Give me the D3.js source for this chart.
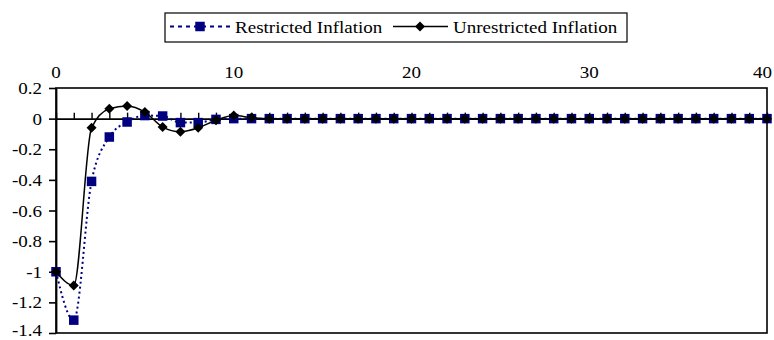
<!DOCTYPE html>
<html>
<head>
<meta charset="utf-8">
<script src="https://cdn.jsdelivr.net/npm/d3@7"></script>
<style>
  html, body { margin: 0; padding: 0; background: #fff; }
  svg { display: block; }
  text { font-family: "Liberation Serif", "Times New Roman", serif; font-size: 17px; fill: #000; }
</style>
</head>
<body>
<svg id="chart" width="774" height="340"></svg>
<script>
// Impulse responses of inflation over 40 periods
const periods = d3.range(0, 41);
const restricted = [-1, -1.316, -0.41, -0.12, -0.022, 0.02, 0.017, -0.026, -0.026, -0.005,
  0, 0, 0, 0, 0, 0, 0, 0, 0, 0, 0, 0, 0, 0, 0, 0, 0, 0, 0, 0, 0, 0, 0, 0, 0, 0, 0, 0, 0, 0, 0];
const unrestricted = [-1, -1.09, -0.06, 0.065, 0.083, 0.043, -0.055, -0.085, -0.06, -0.011,
  0.02, 0.007, 0, 0, 0, 0, 0, 0, 0, 0, 0, 0, 0, 0, 0, 0, 0, 0, 0, 0, 0, 0, 0, 0, 0, 0, 0, 0, 0, 0, 0];
const xTickLabels = [0, 10, 20, 30, 40];
const yTickLabels = [0.2, 0, -0.2, -0.4, -0.6, -0.8, -1, -1.2, -1.4];
const seriesNames = ["Restricted Inflation", "Unrestricted Inflation"];

const svg = d3.select("#chart");
const plot = { left: 56, right: 767, top: 88, bottom: 333 };
const stretch = 1.12; // horizontal widening of the serif labels

const x = d3.scaleLinear().domain([0, 40]).range([plot.left, plot.right]);
const y = d3.scaleLinear().domain([-1.4, 0.2]).range([plot.bottom, plot.top]);

function label(parent, px, py, str, anchor) {
  return parent.append("text")
    .attr("transform", `translate(${px},${py}) scale(${stretch},1)`)
    .attr("text-anchor", anchor)
    .text(str);
}

// Plot frame
svg.append("rect")
  .attr("x", plot.left).attr("y", plot.top)
  .attr("width", plot.right - plot.left).attr("height", plot.bottom - plot.top)
  .attr("fill", "none").attr("stroke", "#000").attr("stroke-width", 1.6);

// Left value axis
const yAxis = svg.append("g")
  .attr("transform", `translate(${plot.left},0)`)
  .call(d3.axisLeft(y).tickValues(yTickLabels).tickSize(7).tickSizeOuter(0).tickFormat(""));
yAxis.selectAll("path").attr("stroke", "#000").attr("stroke-width", 1.8);
yAxis.selectAll("line").attr("stroke", "#000").attr("stroke-width", 1.6);
// value labels, the lowest one nudged up to stay on the page
yTickLabels.forEach(v => label(svg, 42, Math.min(y(v) + 6, 336), String(v), "end"));

// Horizontal axis at zero, minor ticks every period pointing up
const xAxis = svg.append("g")
  .attr("transform", `translate(0,${y(0)})`)
  .call(d3.axisTop(x).tickValues(periods).tickSize(6).tickSizeOuter(0).tickFormat(""));
xAxis.selectAll("path").attr("stroke", "#000").attr("stroke-width", 1.8);
xAxis.selectAll("line").attr("stroke", "#000").attr("stroke-width", 1.4);

// Period labels above the frame; the last one is kept inside the page
xTickLabels.forEach(v => {
  const t = label(svg, x(v), 77.5, String(v), "middle");
  const w = t.node().getBBox().width * stretch;
  const overflow = x(v) + w / 2 - 772;
  if (overflow > 0) t.attr("transform", `translate(${x(v) - overflow},77.5) scale(${stretch},1)`);
});

// Smoothed series lines
const line = d3.line()
  .x((d, i) => x(periods[i]))
  .y(d => y(d))
  .curve(d3.curveMonotoneX);

svg.append("path").datum(restricted)
  .attr("d", line).attr("fill", "none")
  .attr("stroke", "#000080").attr("stroke-width", 2).attr("stroke-dasharray", "2,3");

const sq = 9.5;
svg.append("g").selectAll("rect").data(restricted).join("rect")
  .attr("x", (d, i) => x(periods[i]) - sq / 2)
  .attr("y", d => y(d) - sq / 2)
  .attr("width", sq).attr("height", sq)
  .attr("fill", "#000080");

svg.append("path").datum(unrestricted)
  .attr("d", line).attr("fill", "none")
  .attr("stroke", "#000").attr("stroke-width", 1.5);

const diamond = r => `M0,${-r}L${r},0L0,${r}L${-r},0Z`;
svg.append("g").selectAll("path").data(unrestricted).join("path")
  .attr("transform", (d, i) => `translate(${x(periods[i])},${y(d)})`)
  .attr("d", diamond(5))
  .attr("fill", "#000");

// Legend
const lg = svg.append("g");
lg.append("rect").attr("x", 165).attr("y", 13).attr("width", 462).attr("height", 29)
  .attr("fill", "#fff").attr("stroke", "#000").attr("stroke-width", 1.2);
lg.append("line").attr("x1", 170).attr("x2", 230).attr("y1", 26.5).attr("y2", 26.5)
  .attr("stroke", "#000080").attr("stroke-width", 2).attr("stroke-dasharray", "4,4");
lg.append("rect").attr("x", 200 - sq / 2).attr("y", 26.5 - sq / 2).attr("width", sq).attr("height", sq)
  .attr("fill", "#000080");
label(lg, 235, 33, seriesNames[0], "start");
lg.append("line").attr("x1", 393).attr("x2", 448).attr("y1", 26.5).attr("y2", 26.5)
  .attr("stroke", "#000").attr("stroke-width", 1.5);
lg.append("path").attr("transform", "translate(420,26.5)").attr("d", diamond(5)).attr("fill", "#000");
label(lg, 453, 33, seriesNames[1], "start");
</script>
</body>
</html>
